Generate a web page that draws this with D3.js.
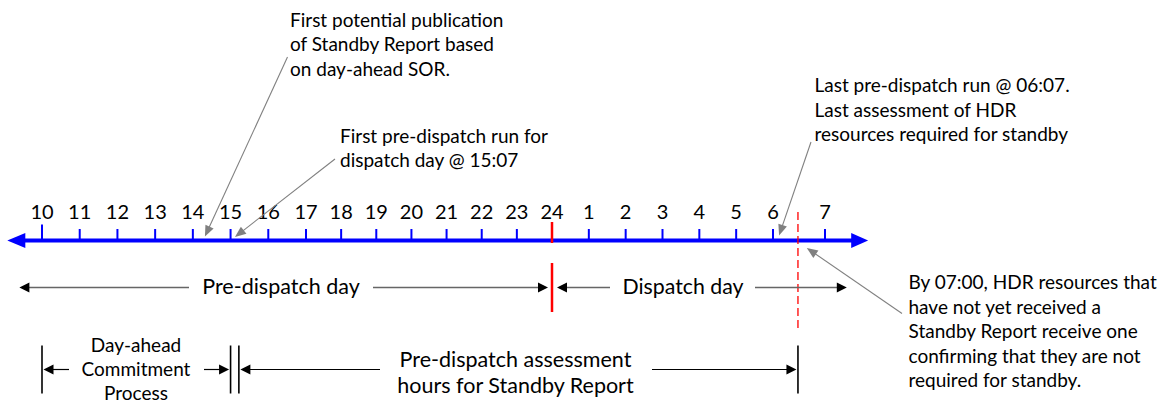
<!DOCTYPE html>
<html><head><meta charset="utf-8">
<script src="https://cdn.jsdelivr.net/npm/d3@7"></script>
<style>
body{margin:0;background:#fff}
svg{display:block}
text{font-family:Lato,"Open Sans",sans-serif;fill:#000}
</style>
</head><body>
<svg id="c" width="1159" height="402"></svg>
<script>
// ---------- data ----------
const hourLabels = ["10","11","12","13","14","15","16","17","18","19","20","21","22","23","24","1","2","3","4","5","6","7"];
const midnightLabel = "24";
// event times as hour index along the timeline (0 = hour 10 of pre-dispatch day)
const eventNames = ["firstPublication","firstPreDispatch","lastPreDispatch","deadlineNotice"];
const eventTimes = [4.32, 5.117, 20.117, 20.65];
const deadlineTime = 20.48;          // dashed red marker
const axisExtent = [-0.92, 21.83];   // blue arrow ends
const preDispatchDaySpan = [-0.6, 14];
const dispatchDaySpan = [14, 21.42];
const dayAheadSpan = [0, 5];
const assessmentSpan = [5.22, 20.48];
const annotationTexts = [
  ["First potential publication","of Standby Report based","on day-ahead SOR."],
  ["First pre-dispatch run for","dispatch day @ 15:07"],
  ["Last pre-dispatch run @ 06:07.","Last assessment of HDR","resources required for standby"],
  ["By 07:00, HDR resources that","have not yet received a","Standby Report receive one","confirming that they are not","required for standby."]
];
const dayLabels = ["Pre-dispatch day","Dispatch day"];
const dayAheadLabel = ["Day-ahead","Commitment","Process"];
const assessmentLabel = ["Pre-dispatch assessment","hours for Standby Report"];

// ---------- scale ----------
const x = d3.scaleLinear().domain([0, 7, 14, 20, 21]).range([42, 306, 552, 773, 825]);

const svg = d3.select("#c");
const AX_Y = 240.5;
const BLUE = "#0000ff", RED = "#ff0000", GRAY = "#808080", DGRAY = "#666666";

function head(g, tipX, tipY, ang, len, hw, color){
  const c = Math.cos(ang), s = Math.sin(ang);
  const bx = tipX - c*len, by = tipY - s*len;
  const pts = [[tipX,tipY],[bx - s*hw, by + c*hw],[bx + s*hw, by - c*hw]];
  g.append("path").attr("d", d3.line()(pts) + "Z").attr("fill", color);
}

// ---------- blue axis ----------
const ax = svg.append("g");
ax.append("line").attr("x1", x(axisExtent[0]) + 12).attr("x2", x(axisExtent[1]) - 12)
  .attr("y1", AX_Y).attr("y2", AX_Y).attr("stroke", BLUE).attr("stroke-width", 4);
head(ax, x(axisExtent[0]), AX_Y, Math.PI, 18, 7.5, BLUE);
head(ax, x(axisExtent[1]), AX_Y, 0, 17, 7.5, BLUE);

ax.selectAll("line.tick").data(hourLabels).join("line").attr("class","tick")
  .attr("x1", (d,i)=>x(i)).attr("x2", (d,i)=>x(i))
  .attr("y1", (d,i)=> d===midnightLabel ? 222 : (i===0 ? 224.5 : 229))
  .attr("y2", (d)=> d===midnightLabel ? 243 : AX_Y)
  .attr("stroke", d=> d===midnightLabel ? RED : BLUE)
  .attr("stroke-width", d=> d===midnightLabel ? 2.5 : 2);

ax.selectAll("text.hl").data(hourLabels).join("text").attr("class","hl")
  .attr("x", (d,i)=>x(i)).attr("y", 219).attr("text-anchor","middle")
  .attr("font-size", 20).text(d=>d);

// ---------- midnight & deadline markers ----------
svg.append("line").attr("x1", x(14)).attr("x2", x(14)).attr("y1", 263).attr("y2", 312)
  .attr("stroke", RED).attr("stroke-width", 2.5);
svg.append("line").attr("x1", x(deadlineTime)).attr("x2", x(deadlineTime)).attr("y1", 212).attr("y2", 328)
  .attr("stroke", RED).attr("stroke-width", 1.3).attr("stroke-dasharray", "8,4");

// ---------- day spans ----------
const DY = 287.5;
function dimArrow(g, x1, x2, y, lineColor, w){
  g.append("line").attr("x1", x1).attr("x2", x2).attr("y1", y).attr("y2", y)
    .attr("stroke", lineColor).attr("stroke-width", w);
}
const ds = svg.append("g");
// Pre-dispatch day
const pdL = x(preDispatchDaySpan[0]), pdR = x(preDispatchDaySpan[1]) - 4;
dimArrow(ds, pdL + 6, 189, DY, DGRAY, 1.6);
dimArrow(ds, 373, pdR - 6, DY, DGRAY, 1.6);
head(ds, pdL, DY, Math.PI, 10, 5, "#000");
head(ds, pdR, DY, 0, 10, 5, "#000");
ds.append("text").attr("x", 281).attr("y", 293.5).attr("text-anchor","middle").attr("font-size", 21.5).text(dayLabels[0]);
// Dispatch day
const ddL = x(dispatchDaySpan[0]) + 5, ddR = x(dispatchDaySpan[1]);
dimArrow(ds, ddL + 6, 610, DY, DGRAY, 1.6);
dimArrow(ds, 755, ddR - 6, DY, DGRAY, 1.6);
head(ds, ddL, DY, Math.PI, 10, 5, "#000");
head(ds, ddR, DY, 0, 10, 5, "#000");
ds.append("text").attr("x", 683).attr("y", 293.5).attr("text-anchor","middle").attr("font-size", 21.3).text(dayLabels[1]);

// ---------- bottom spans ----------
const BY = 369.5;
const bs = svg.append("g");
const bars = [x(dayAheadSpan[0]), x(dayAheadSpan[1]), x(assessmentSpan[0]), x(assessmentSpan[1])];
bs.selectAll("line.bar").data(bars).join("line").attr("class","bar")
  .attr("x1", d=>d).attr("x2", d=>d).attr("y1", 345.5).attr("y2", 393.5)
  .attr("stroke", "#000").attr("stroke-width", 1.6);
// day-ahead arrows
dimArrow(bs, bars[0] + 8, 69, BY, "#000", 1.2);
head(bs, bars[0] + 1.5, BY, Math.PI, 10, 5, "#000");
dimArrow(bs, 204, bars[1] - 8, BY, "#000", 1.2);
head(bs, bars[1] - 1.5, BY, 0, 10, 5, "#000");
bs.selectAll("text.da").data(dayAheadLabel).join("text").attr("class","da")
  .attr("x", 136).attr("y", (d,i)=>351.5 + i*24).attr("text-anchor","middle")
  .attr("font-size", 19).text(d=>d);
// assessment arrows
dimArrow(bs, bars[2] + 8, 380, BY, "#000", 1.2);
head(bs, bars[2] + 1.5, BY, Math.PI, 10, 5, "#000");
dimArrow(bs, 652, bars[3] - 8, BY, "#000", 1.2);
head(bs, bars[3] - 1.5, BY, 0, 10, 5, "#000");
bs.selectAll("text.as").data(assessmentLabel).join("text").attr("class","as")
  .attr("x", 515.5).attr("y", (d,i)=>366.5 + i*26.5).attr("text-anchor","middle")
  .attr("font-size", 21.5).text(d=>d);

// ---------- annotations ----------
const annLayout = [
  {tx: 290, ty: 26.7, lh: 24.7, sx: 287.5, sy: 57,  tipY: 236.5},
  {tx: 340, ty: 142.5, lh: 24.2, sx: 335, sy: 159,  tipY: 237},
  {tx: 814.5, ty: 92.3, lh: 24.4, sx: 811, sy: 142, tipY: 235.5},
  {tx: 908.5, ty: 289, lh: 24.5, sx: 902, sy: 313.5, tipY: 248}
];
const an = svg.append("g");
eventTimes.forEach((t, k) => {
  const L = annLayout[k];
  const tipX = x(t), tipY = L.tipY;
  const ang = Math.atan2(tipY - L.sy, tipX - L.sx);
  const hl = 11;
  an.append("line").attr("x1", L.sx).attr("y1", L.sy)
    .attr("x2", tipX - Math.cos(ang)*hl*0.8).attr("y2", tipY - Math.sin(ang)*hl*0.8)
    .attr("stroke", GRAY).attr("stroke-width", 1.1);
  head(an, tipX, tipY, ang, hl, 4.5, GRAY);
  an.selectAll("text.a"+k).data(annotationTexts[k]).join("text").attr("class","a"+k)
    .attr("x", L.tx).attr("y", (d,i)=>L.ty + i*L.lh)
    .attr("font-size", 19).text(d=>d);
});
</script>
</body></html>
